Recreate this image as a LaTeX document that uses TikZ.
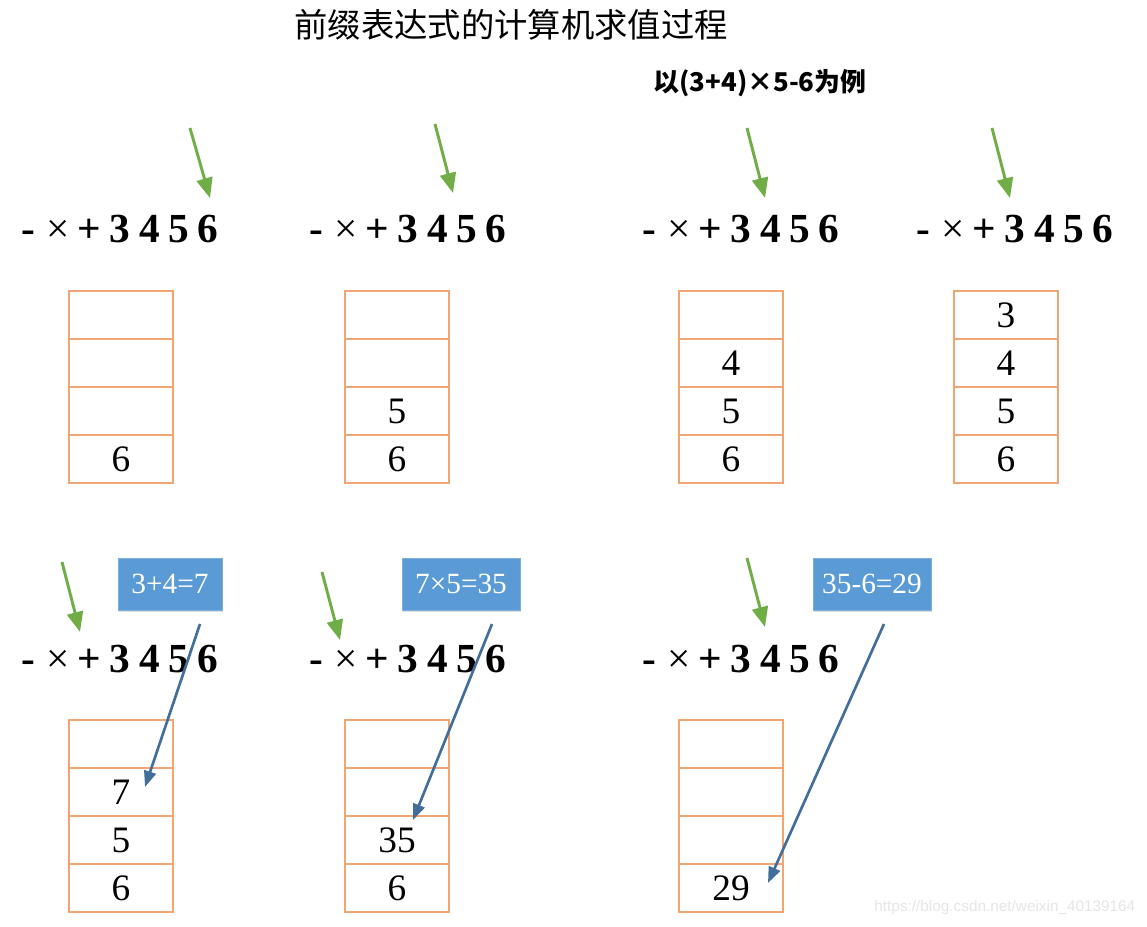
\documentclass[tikz,border=0pt]{standalone}
\usepackage{fontspec}
\setmainfont{Liberation Serif}
\newfontfamily\cjk{Noto Sans CJK SC}
\newfontfamily\marksans{Liberation Sans}
\usetikzlibrary{positioning,arrows.meta,calc,shadows}

\definecolor{stackline}{RGB}{240,165,115}
\definecolor{pushgreen}{RGB}{112,173,71}
\definecolor{opblue}{RGB}{91,155,213}
\definecolor{popblue}{RGB}{66,110,155}

% one row of the prefix expression: name, left x, baseline y
\newcommand\prefixrow[3]{%
  \foreach \t/\dx [count=\i] in {-/6,{\mdseries ×}/36,+/67,3/98,4/128,5/157,6/186}
    \node[token] (#1-\i) at (#2+\dx,#3) {\t};
}
% one stack of four cells: name, centre x, centre y of top cell, cells from top
\newcommand\stackcol[7]{%
  \node[cell] (#1-1) at (#2,#3) {#4};
  \node[cell, below=0pt of #1-1] (#1-2) {#5};
  \node[cell, below=0pt of #1-2] (#1-3) {#6};
  \node[cell, below=0pt of #1-3] (#1-4) {#7};
}

\begin{document}
\begin{tikzpicture}[
  x=0.75pt, y=-0.75pt,
  token/.style={anchor=base, inner sep=0pt, font=\bfseries\fontsize{31}{31}\selectfont},
  cell/.style={draw=stackline, line width=0.8pt, minimum width=78pt, minimum height=36pt,
    inner sep=0pt, outer sep=0pt, font=\fontsize{28}{28}\selectfont},
  opbox/.style={fill=opblue, draw=opblue!80!white, text=white, minimum height=39pt,
    inner sep=2pt, font=\fontsize{22}{22}\selectfont,
    drop shadow={shadow xshift=0.8pt, shadow yshift=-1.5pt, opacity=0.25}},
  push/.style={draw=pushgreen, line width=2.2pt, -{Triangle[length=15pt,width=12pt]}},
  pop/.style={draw=popblue, line width=2pt, -{Triangle[length=12pt,width=9pt]}},
]
\useasboundingbox (0,0) rectangle (1147,927);

\node[font=\cjk\fontsize{25}{25}\selectfont] (title) at (511,25) {前缀表达式的计算机求值过程};
\node[font=\cjk\bfseries\fontsize{19.4}{19.4}\selectfont] (example) at (760,83) {以(3+4)×5-6为例};

% top row
\prefixrow{t1}{22}{243}
\prefixrow{t2}{310}{243}
\prefixrow{t3}{643}{243}
\prefixrow{t4}{917}{243}

\draw[push] ($(t1-7.base)+(-18,-115)$) -- ($(t1-7.base)+(2,-45)$);
\draw[push] ($(t2-6.base)+(-32,-119)$) -- ($(t2-6.base)+(-14,-50)$);
\draw[push] ($(t3-5.base)+(-24,-115)$) -- ($(t3-5.base)+(-6,-45)$);
\draw[push] ($(t4-4.base)+(-23,-115)$) -- ($(t4-4.base)+(-5,-45)$);

\stackcol{s1}{121}{315}{}{}{}{6}
\stackcol{s2}{397}{315}{}{}{5}{6}
\stackcol{s3}{731}{315}{}{4}{5}{6}
\stackcol{s4}{1006}{315}{3}{4}{5}{6}

% bottom row
\prefixrow{b1}{22}{672}
\prefixrow{b2}{310}{672}
\prefixrow{b3}{643}{672}

\draw[push] ($(b1-3.base)+(-27,-110)$) -- ($(b1-3.base)+(-9,-40)$);
\draw[push] ($(b2-2.base)+(-24,-100)$) -- ($(b2-2.base)+(-6,-32)$);
\draw[push] ($(b3-5.base)+(-24,-114)$) -- ($(b3-5.base)+(-6,-45)$);

\stackcol{u1}{121}{744}{}{7}{5}{6}
\stackcol{u2}{397}{744}{}{}{35}{6}
\stackcol{u3}{731}{744}{}{}{}{29}

\node[opbox, minimum width=78pt] (op1) at (170,584) {3+4=7};
\node[opbox, minimum width=88.5pt] (op2) at (461,584) {7×5=35};
\node[opbox, minimum width=88.5pt] (op3) at (872,584) {35-6=29};

\draw[pop] ($(op1.center)+(30,40)$) -- ($(u1-2.center)+(24,-5)$);
\draw[pop] ($(op2.center)+(31,40)$) -- ($(u2-3.center)+(16,-20)$);
\draw[pop] ($(op3.center)+(12,40)$) -- ($(u3-4.center)+(37,-5)$);

\node[font=\marksans\fontsize{11.5}{11.5}\selectfont, text=black!10, anchor=east] (mark) at (1140,908) {https://blog.csdn.net/weixin\_40139164};
\end{tikzpicture}
\end{document}
